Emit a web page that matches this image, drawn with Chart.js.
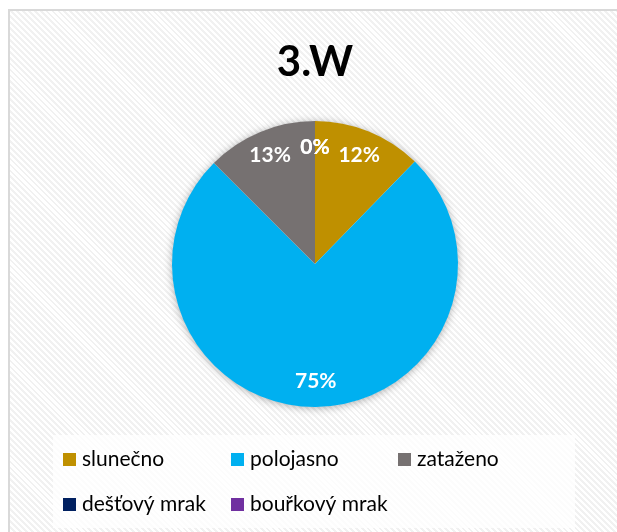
<!DOCTYPE html>
<html>
<head>
<meta charset="utf-8">
<script src="https://cdn.jsdelivr.net/npm/chart.js@4/dist/chart.umd.min.js"></script>
<style>
  html, body { margin: 0; padding: 0; background: #ffffff; }
  #wrap { position: relative; width: 617px; height: 532px; overflow: hidden; background: #ffffff; }
  #frame {
    position: absolute; left: 8px; top: 9px; width: 640px; height: 560px;
    box-sizing: border-box; border: 2px solid #d9d9d9;
    background: repeating-linear-gradient(45deg, #ffffff 0px, #ffffff 2.2px, #f1f1f1 2.2px, #f1f1f1 4.2px);
  }
  #legendBox {
    position: absolute; left: 53px; top: 435px; width: 522px; height: 93px;
    background: rgba(255,255,255,0.75);
  }
  canvas { position: absolute; left: 0; top: 0; }
</style>
</head>
<body>
<div id="wrap">
  <div id="frame"></div>
  <div id="legendBox"></div>
  <canvas id="c" width="617" height="532"></canvas>
</div>
<script>
const chartTitle = '3.W';
const categories = ['slunečno', 'polojasno', 'zataženo', 'dešťový mrak', 'bouřkový mrak'];
const values = [12.3, 75.2, 12.5, 0, 0];
const colors = ['#BF9000', '#00B0F0', '#767171', '#002060', '#7030A0'];

const FONT = 'Lato, "Open Sans", "DejaVu Sans", sans-serif';

const shadowPlugin = {
  id: 'pieShadow',
  beforeDatasetsDraw(chart) {
    const meta = chart.getDatasetMeta(0);
    if (!meta.data.length) return;
    const a = meta.data[0];
    const ctx = chart.ctx;
    ctx.save();
    ctx.shadowColor = 'rgba(0,0,0,0.35)';
    ctx.shadowBlur = 9;
    ctx.shadowOffsetX = 0;
    ctx.shadowOffsetY = 1;
    ctx.beginPath();
    ctx.arc(a.x, a.y, a.outerRadius - 0.5, 0, Math.PI * 2);
    ctx.fillStyle = '#ffffff';
    ctx.fill();
    ctx.restore();
  }
};

const labelPlugin = {
  id: 'extras',
  afterDraw(chart) {
    const ctx = chart.ctx;
    const meta = chart.getDatasetMeta(0);
    const total = values.reduce((s, v) => s + v, 0);
    ctx.save();
    // slice labels
    ctx.fillStyle = '#ffffff';
    ctx.font = 'bold 21px ' + FONT;
    ctx.textAlign = 'center';
    ctx.textBaseline = 'middle';
    meta.data.forEach((arc, i) => {
      const mid = (arc.startAngle + arc.endAngle) / 2;
      const r = arc.outerRadius * 0.82;
      const x = arc.x + Math.cos(mid) * r;
      const y = arc.y + Math.sin(mid) * r;
      ctx.fillText(Math.round(values[i] / total * 100) + '%', x, y);
    });
    // title
    ctx.fillStyle = '#000000';
    ctx.font = 'bold 42px ' + FONT;
    ctx.textAlign = 'center';
    ctx.textBaseline = 'alphabetic';
    ctx.fillText(chartTitle, 315, 76);
    // legend
    const colX = [63, 231, 398];
    const rowY = [466, 511];
    ctx.font = '21px ' + FONT;
    ctx.textAlign = 'left';
    categories.forEach((name, i) => {
      const col = i % 3, row = Math.floor(i / 3);
      const x = colX[col], y = rowY[row];
      ctx.fillStyle = colors[i];
      ctx.fillRect(x, y - 13, 13, 13);
      ctx.fillStyle = '#000000';
      ctx.fillText(name, x + 19, y);
    });
    ctx.restore();
  }
};

new Chart(document.getElementById('c'), {
  type: 'pie',
  data: {
    labels: categories,
    datasets: [{
      data: values,
      backgroundColor: colors,
      borderWidth: 0
    }]
  },
  options: {
    responsive: false,
    animation: false,
    layout: { padding: { top: 121, bottom: 125, left: 172, right: 159 } },
    plugins: {
      legend: { display: false },
      title: { display: false },
      tooltip: { enabled: false }
    }
  },
  plugins: [shadowPlugin, labelPlugin]
});
</script>
</body>
</html>
